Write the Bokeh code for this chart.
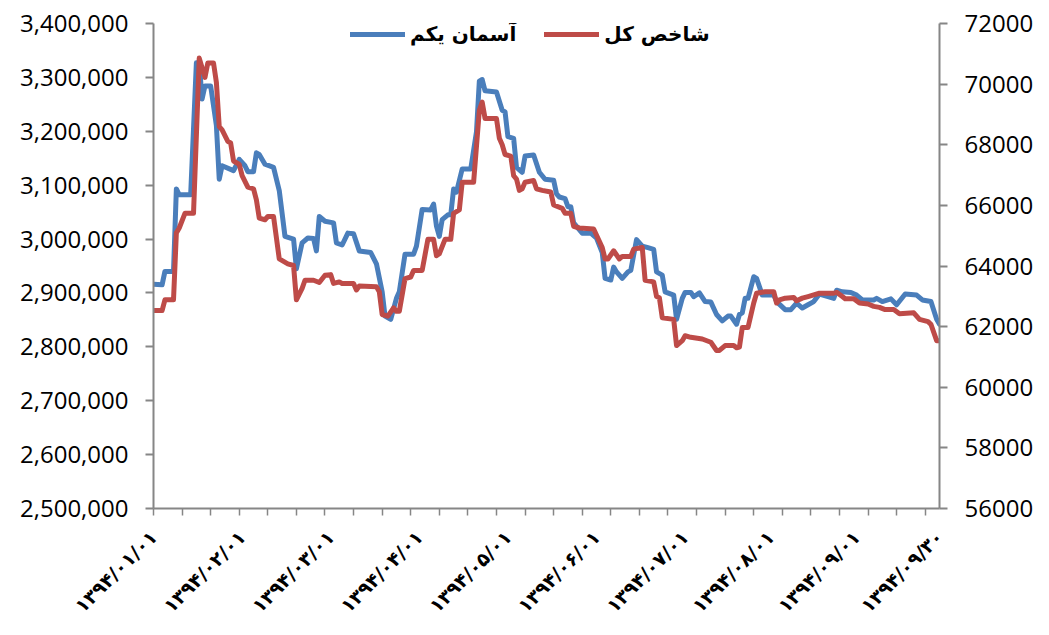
from bokeh.plotting import figure
from bokeh.models import (Range1d, LinearAxis, FixedTicker, NumeralTickFormatter,
                          Legend, LegendItem)
from bokeh.embed import file_html
from bokeh.resources import INLINE

# ---- data (day index from 1394/01/01) ----
aseman_days = [0, 3, 4, 7, 8, 9, 13, 15, 16, 17, 18, 20, 22, 23, 24, 28, 30, 32, 33, 35,
               36, 37, 39, 42, 44, 46, 49, 50, 52, 54, 56, 57, 58, 60, 63, 64, 66, 68, 70, 72,
               76, 78, 80, 81, 83, 85, 86, 88, 91, 92, 94, 97, 98, 99, 100, 101, 103, 104, 105, 106,
               108, 111, 113, 114, 115, 116, 120, 122, 123, 124, 126, 127, 129, 130, 133, 135, 137, 140, 141, 142,
               144, 145, 146, 147, 150, 153, 155, 157, 158, 160, 161, 162, 164, 166, 167, 169, 171, 173, 175, 176,
               178, 179, 182, 183, 185, 186, 188, 189, 191, 193, 195, 197, 199, 201, 202, 204, 205, 206, 207, 208,
               210, 211, 213, 217, 218, 221, 223, 225, 227, 229, 231, 233, 236, 238, 239, 241, 244, 246, 248, 252,
               253, 255, 258, 260, 263, 267, 269, 272, 274, 275]
aseman_values = [2916000, 2915000, 2940000, 2940000, 3093000, 3082000, 3082000, 3327000, 3327000, 3260000,
                 3284000, 3284000, 3211000, 3111000, 3136000, 3127000, 3148000, 3136000, 3125000, 3125000,
                 3160000, 3157000, 3139000, 3133000, 3090000, 3005000, 3000000, 2945000, 2993000, 3002000,
                 3001000, 2978000, 3042000, 3033000, 3030000, 2993000, 2989000, 3011000, 3010000, 2978000,
                 2975000, 2954000, 2902000, 2857000, 2851000, 2890000, 2902000, 2972000, 2972000, 2987000,
                 3055000, 3054000, 3065000, 3024000, 3005000, 3036000, 3045000, 3045000, 3093000, 3087000,
                 3130000, 3130000, 3199000, 3293000, 3296000, 3275000, 3273000, 3239000, 3236000, 3190000,
                 3187000, 3133000, 3124000, 3154000, 3156000, 3124000, 3111000, 3109000, 3084000, 3078000,
                 3075000, 3060000, 3060000, 3030000, 3011000, 3011000, 3002000, 2975000, 2927000, 2924000,
                 2948000, 2939000, 2927000, 2939000, 2942000, 2999000, 2987000, 2984000, 2981000, 2939000,
                 2933000, 2902000, 2896000, 2851000, 2890000, 2901000, 2901000, 2893000, 2900000, 2884000,
                 2883000, 2860000, 2848000, 2857000, 2857000, 2842000, 2860000, 2863000, 2890000, 2890000,
                 2930000, 2927000, 2896000, 2896000, 2884000, 2869000, 2869000, 2881000, 2872000, 2878000,
                 2884000, 2898000, 2893000, 2890000, 2905000, 2902000, 2901000, 2896000, 2887000, 2887000,
                 2890000, 2884000, 2889000, 2878000, 2898000, 2896000, 2887000, 2884000, 2851000, 2842000]

index_days = [0, 3, 4, 7, 8, 9, 11, 14, 16, 18, 19, 21, 22, 23, 24, 26, 27, 28, 30, 31,
              33, 35, 36, 37, 39, 40, 42, 44, 47, 49, 50, 52, 53, 56, 58, 60, 62, 63, 65, 66,
              70, 71, 72, 78, 79, 80, 82, 84, 85, 86, 88, 90, 91, 94, 96, 98, 99, 100, 102, 104,
              105, 107, 108, 112, 114, 115, 116, 120, 121, 122, 123, 125, 126, 127, 128, 129, 130, 133, 134, 136,
              139, 140, 143, 144, 146, 147, 149, 154, 157, 158, 159, 161, 163, 164, 167, 168, 171, 172, 175, 176,
              177, 178, 182, 183, 185, 186, 188, 192, 195, 197, 198, 200, 203, 204, 205, 206, 208, 210, 211, 214,
              217, 218, 219, 221, 224, 225, 227, 229, 231, 233, 238, 239, 241, 242, 245, 247, 250, 252, 254, 256,
              259, 261, 266, 268, 271, 272, 274, 275]
index_values = [62530, 62530, 62885, 62885, 65093, 65254, 65739, 65739, 70859, 70222,
                70697, 70697, 70061, 68596, 68487, 68112, 68057, 67465, 67355, 66980,
                66602, 66547, 66182, 65577, 65526, 65633, 65633, 64233, 64071, 64016,
                62885, 63263, 63531, 63531, 63457, 63693, 63716, 63425, 63476, 63425,
                63425, 63208, 63337, 63315, 63153, 62400, 62345, 62617, 62507, 62507,
                63586, 63638, 63855, 63855, 64879, 64879, 64339, 64404, 64879, 64879,
                65739, 65849, 66764, 66764, 69133, 69404, 68865, 68865, 68218, 68002,
                67678, 67627, 66980, 66870, 66495, 66547, 66764, 66819, 66547, 66495,
                66440, 66011, 65901, 65739, 65739, 65309, 65254, 65222, 64608, 64233,
                64233, 64501, 64233, 64317, 64317, 64556, 64608, 63531, 63477, 62992,
                62950, 62293, 62239, 61375, 61537, 61699, 61647, 61592, 61485, 61214,
                61214, 61375, 61375, 61301, 61324, 61970, 61970, 62778, 63101, 63153,
                63153, 62778, 62885, 62940, 62960, 62853, 62940, 62992, 63047, 63101,
                63101, 63134, 62992, 62917, 62917, 62778, 62746, 62668, 62636, 62562,
                62562, 62423, 62455, 62238, 62164, 62077, 61537, 61537]

label_days = [0, 31, 62, 93, 124, 155, 186, 216, 246, 275]
date_labels = ["۱۳۹۴/۰۱/۰۱", "۱۳۹۴/۰۲/۰۱", "۱۳۹۴/۰۳/۰۱", "۱۳۹۴/۰۴/۰۱", "۱۳۹۴/۰۵/۰۱",
               "۱۳۹۴/۰۶/۰۱", "۱۳۹۴/۰۷/۰۱", "۱۳۹۴/۰۸/۰۱", "۱۳۹۴/۰۹/۰۱", "۱۳۹۴/۰۹/۳۰"]
minor_tick_days = list(range(0, 276, 10))
left_ticks = list(range(2500000, 3400001, 100000))
right_ticks = list(range(56000, 72001, 2000))

name_aseman = "آسمان یکم"
name_index = "شاخص کل"

BLUE = "#4A7EBB"
RED = "#BE4B48"
AXIS = "#868686"
NUM_FONT = "Open Sans"
FA_FONT = "DejaVu Sans"

p = figure(width=1041, height=627, output_backend="svg", toolbar_location=None,
           x_range=Range1d(0, 275), y_range=Range1d(2500000, 3400000),
           min_border_left=153, min_border_right=102, min_border_top=23, min_border_bottom=109,
           x_axis_location=None, y_axis_location=None)
p.outline_line_color = None
p.xgrid.visible = False
p.ygrid.visible = False
p.extra_y_ranges = {"right": Range1d(56000, 72000)}

# left axis
ly = LinearAxis(ticker=FixedTicker(ticks=left_ticks),
                formatter=NumeralTickFormatter(format="0,0"))
# right axis
ry = LinearAxis(y_range_name="right", ticker=FixedTicker(ticks=right_ticks))
for ax in (ly, ry):
    ax.axis_line_color = AXIS
    ax.axis_line_width = 2
    ax.major_tick_line_color = AXIS
    ax.major_tick_line_width = 2
    ax.major_tick_out = 8
    ax.major_tick_in = 0
    ax.minor_tick_line_color = None
    ax.major_label_text_font = NUM_FONT
    ax.major_label_text_font_size = "24px"
    ax.major_label_text_color = "#000000"
    ax.major_label_standoff = 17
p.add_layout(ly, "left")
p.add_layout(ry, "right")

# bottom axis
bx = LinearAxis(ticker=FixedTicker(ticks=label_days, minor_ticks=minor_tick_days))
bx.major_label_overrides = {d: t for d, t in zip(label_days, date_labels)}
bx.axis_line_color = AXIS
bx.axis_line_width = 2
bx.major_tick_line_color = None
bx.major_tick_out = 0
bx.major_tick_in = 0
bx.minor_tick_line_color = AXIS
bx.minor_tick_line_width = 1.5
bx.minor_tick_out = 7
bx.minor_tick_in = 0
bx.major_label_orientation = 0.785398
bx.major_label_text_font = FA_FONT
bx.major_label_text_font_style = "bold"
bx.major_label_text_font_size = "19px"
bx.major_label_text_color = "#000000"
bx.major_label_standoff = 18
p.add_layout(bx, "below")

r_blue = p.line(aseman_days, aseman_values, line_color=BLUE, line_width=5,
                line_join="round", line_cap="round")
r_red = p.line(index_days, index_values, line_color=RED, line_width=5,
               line_join="round", line_cap="round", y_range_name="right")

legend = Legend(items=[LegendItem(label=name_aseman, renderers=[r_blue]),
                       LegendItem(label=name_index, renderers=[r_red])],
                orientation="horizontal", location=(197, 462))
legend.background_fill_alpha = 0
legend.border_line_alpha = 0
legend.padding = 0
legend.margin = 0
legend.spacing = 28
legend.glyph_width = 55
legend.glyph_height = 20
legend.label_height = 20
legend.label_standoff = 5
legend.label_text_font = FA_FONT
legend.label_text_font_style = "bold"
legend.label_text_font_size = "20px"
legend.label_text_color = "#000000"
p.add_layout(legend, "center")

open("out.html", "w").write(file_html(p, INLINE))
